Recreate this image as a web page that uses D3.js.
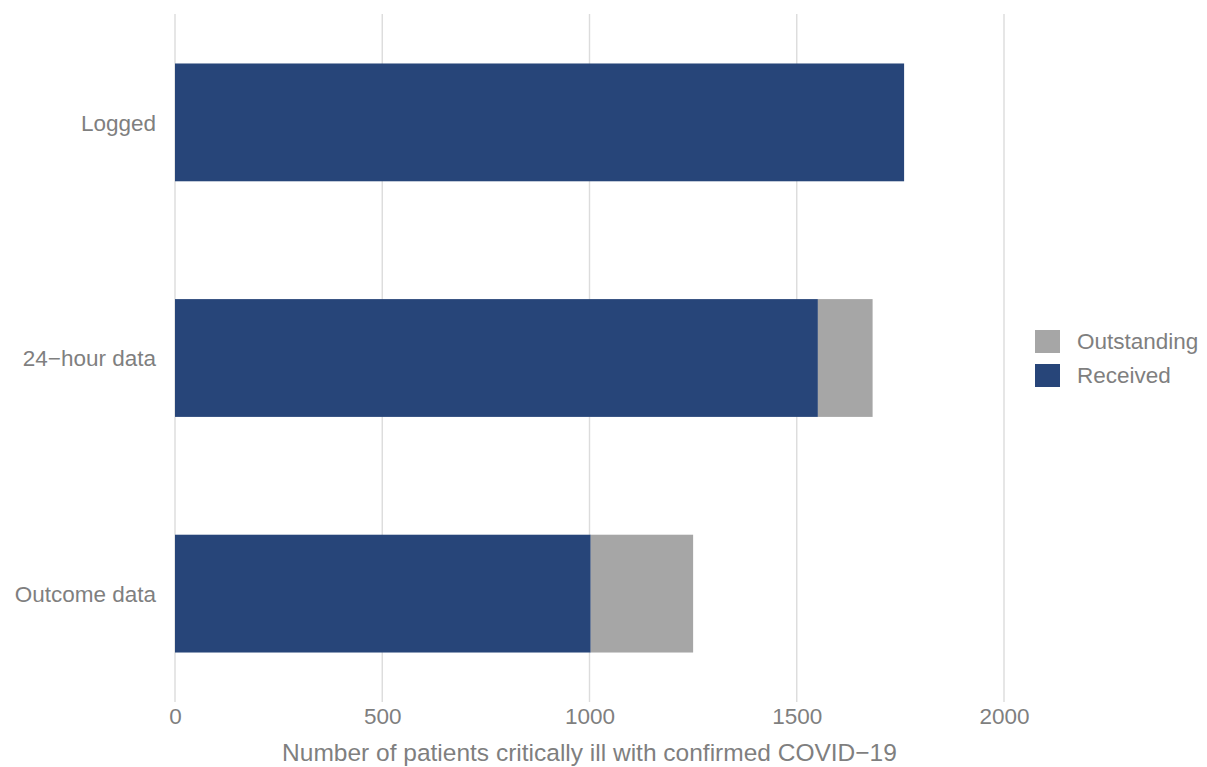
<!DOCTYPE html>
<html>
<head>
<meta charset="utf-8">
<script src="https://cdn.jsdelivr.net/npm/d3@7"></script>
<style>
  body { margin: 0; background: white; }
  text { font-family: "Liberation Sans", Arial, sans-serif; fill: #7f7f7f; }
</style>
</head>
<body>
<div id="chart"></div>
<script>
const categories = ["Logged", "24\u2212hour data", "Outcome data"];
const received = [1759, 1551, 1003];
const outstanding = [0, 132, 247];
const seriesNames = ["Outstanding", "Received"];
const seriesColors = ["#a6a6a6", "#274579"];
const xTicks = [0, 500, 1000, 1500, 2000];
const xTitle = "Number of patients critically ill with confirmed COVID\u221219";

const w = 1207;
const h = 767;

const xScale = d3.scaleLinear()
  .domain([0, 2000])
  .range([175, 1004]);

const yScale = d3.scaleBand()
  .domain(categories)
  .range([14, 702])
  .paddingInner(0.5)
  .paddingOuter(0.21);

const svg = d3.select("#chart")
  .append("svg")
  .attr("width", w)
  .attr("height", h);

// grid lines
svg.append("g")
  .selectAll("line")
  .data(xTicks)
  .enter()
  .append("line")
  .attr("x1", d => xScale(d))
  .attr("x2", d => xScale(d))
  .attr("y1", 14)
  .attr("y2", 702)
  .attr("stroke", "#dcdcdc")
  .attr("stroke-width", 1.4);

const rows = categories.map((c, i) => ({ cat: c, rec: received[i], out: outstanding[i] }));

// received bars
svg.append("g")
  .selectAll("rect")
  .data(rows)
  .enter()
  .append("rect")
  .attr("x", xScale(0))
  .attr("y", d => yScale(d.cat))
  .attr("width", d => xScale(d.rec) - xScale(0))
  .attr("height", yScale.bandwidth())
  .attr("fill", seriesColors[1]);

// outstanding bars, stacked on the right
svg.append("g")
  .selectAll("rect")
  .data(rows.filter(d => d.out > 0))
  .enter()
  .append("rect")
  .attr("x", d => xScale(d.rec))
  .attr("y", d => yScale(d.cat))
  .attr("width", d => xScale(d.rec + d.out) - xScale(d.rec))
  .attr("height", yScale.bandwidth())
  .attr("fill", seriesColors[0]);

// x axis labels
const xAxis = d3.axisBottom(xScale).tickValues(xTicks).tickFormat(d3.format("d")).tickSize(0).tickPadding(0);
svg.append("g")
  .attr("transform", "translate(0, 702)")
  .call(xAxis)
  .call(g => g.select(".domain").remove())
  .selectAll("text")
  .attr("dy", null)
  .attr("y", 22)
  .style("font-size", "22.5px");

// y axis labels
const yAxis = d3.axisLeft(yScale).tickSize(0).tickPadding(0);
svg.append("g")
  .attr("transform", "translate(156, 1)")
  .call(yAxis)
  .call(g => g.select(".domain").remove())
  .selectAll("text")
  .style("font-size", "22.5px");

// x title
svg.append("text")
  .attr("x", 589.5)
  .attr("y", 761)
  .attr("text-anchor", "middle")
  .style("font-size", "24.5px")
  .text(xTitle);

// legend
const legend = svg.append("g").attr("transform", "translate(1035, 330)");
seriesNames.forEach((name, i) => {
  legend.append("rect")
    .attr("x", 0)
    .attr("y", i * 34)
    .attr("width", 25)
    .attr("height", 23)
    .attr("fill", seriesColors[i]);
  legend.append("text")
    .attr("x", 42)
    .attr("y", i * 34 + 19)
    .style("font-size", "22.5px")
    .text(name);
});
</script>
</body>
</html>
